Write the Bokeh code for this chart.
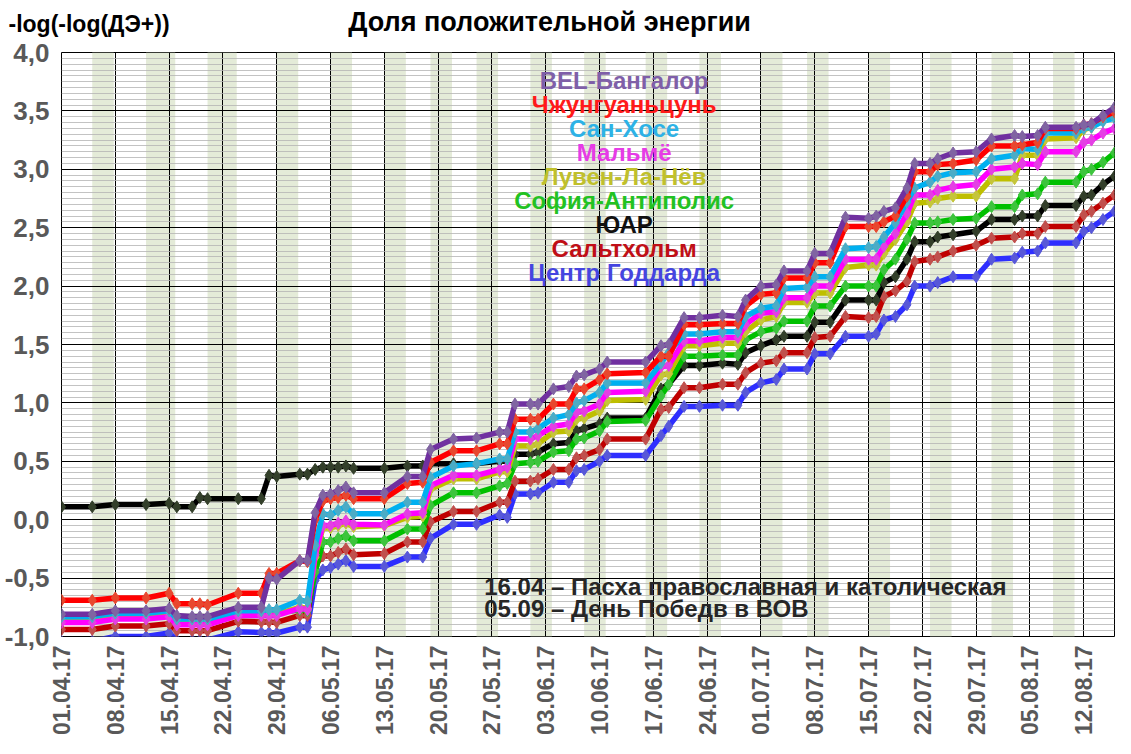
import math
from bokeh.plotting import figure
from bokeh.models import Range1d, FixedTicker, ColumnDataSource, Label
from bokeh.embed import file_html
from bokeh.resources import INLINE
from bokeh.core.properties import value

# ---- data (x = days since 01.04.17) ----
days = [0, 4, 7, 11, 14, 15, 17, 18, 19, 23, 26, 27, 28, 31, 32, 33, 34, 35, 36, 37,
        38, 42, 45, 47, 48, 51, 54, 57, 58, 59, 61, 62, 64, 66, 67, 68, 70, 71, 76, 78,
        79, 81, 83, 86, 88, 89, 91, 93, 94, 97, 98, 100, 102, 105, 106, 107, 108.5, 110, 111, 113,
        114, 116, 119, 121, 124, 125, 127, 128, 132, 133, 134, 135.5, 137]

bangalore = [-0.81, -0.81, -0.78, -0.78, -0.76, -0.82, -0.83, -0.83, -0.83, -0.75,
             -0.75, -0.50, -0.51, -0.35, -0.35, 0.06, 0.21, 0.22, 0.25, 0.28,
             0.23, 0.23, 0.37, 0.37, 0.60, 0.69, 0.70, 0.75, 0.75, 0.99,
             0.99, 0.99, 1.12, 1.14, 1.23, 1.24, 1.29, 1.35, 1.35, 1.49,
             1.50, 1.73, 1.73, 1.75, 1.74, 1.88, 2.00, 2.01, 2.13, 2.13,
             2.28, 2.28, 2.59, 2.58, 2.60, 2.64, 2.67, 2.84, 3.05, 3.05,
             3.09, 3.14, 3.15, 3.26, 3.29, 3.28, 3.29, 3.36, 3.36, 3.38,
             3.39, 3.46, 3.53]
zhongguancun = [-0.69, -0.69, -0.67, -0.67, -0.63, -0.72, -0.72, -0.72, -0.73, -0.63,
                -0.63, -0.46, -0.46, -0.35, -0.36, 0.00, 0.16, 0.18, 0.19, 0.21,
                0.18, 0.18, 0.31, 0.32, 0.49, 0.59, 0.59, 0.65, 0.65, 0.86,
                0.86, 0.86, 0.99, 0.99, 1.12, 1.12, 1.20, 1.25, 1.26, 1.40,
                1.40, 1.67, 1.67, 1.68, 1.68, 1.83, 1.93, 1.94, 2.07, 2.07,
                2.20, 2.20, 2.51, 2.51, 2.51, 2.55, 2.60, 2.77, 2.98, 2.98,
                3.04, 3.05, 3.08, 3.20, 3.20, 3.21, 3.23, 3.35, 3.35, 3.38,
                3.39, 3.45, 3.49]
san_jose = [-0.83, -0.83, -0.80, -0.80, -0.78, -0.85, -0.85, -0.85, -0.85, -0.78,
            -0.78, -0.77, -0.77, -0.69, -0.70, -0.22, 0.05, 0.04, 0.08, 0.11,
            0.05, 0.05, 0.15, 0.15, 0.36, 0.46, 0.48, 0.52, 0.52, 0.75,
            0.75, 0.78, 0.87, 0.90, 1.00, 1.02, 1.09, 1.17, 1.17, 1.34,
            1.43, 1.59, 1.59, 1.61, 1.61, 1.74, 1.81, 1.83, 1.98, 1.99,
            2.08, 2.08, 2.32, 2.33, 2.34, 2.42, 2.54, 2.72, 2.84, 2.89,
            2.94, 2.97, 2.98, 3.09, 3.12, 3.18, 3.17, 3.31, 3.31, 3.35,
            3.36, 3.41, 3.44]
malmo = [-0.88, -0.88, -0.85, -0.85, -0.83, -0.90, -0.90, -0.90, -0.90, -0.82,
         -0.82, -0.82, -0.82, -0.76, -0.77, -0.30, -0.05, -0.05, -0.03, -0.01,
         -0.04, -0.045, 0.05, 0.06, 0.29, 0.38, 0.38, 0.43, 0.45, 0.69,
         0.69, 0.72, 0.80, 0.82, 0.92, 0.93, 0.99, 1.09, 1.10, 1.31,
         1.32, 1.53, 1.53, 1.56, 1.56, 1.67, 1.77, 1.78, 1.90, 1.90,
         2.00, 2.00, 2.23, 2.23, 2.23, 2.34, 2.45, 2.62, 2.78, 2.78,
         2.82, 2.85, 2.87, 3.00, 3.02, 3.05, 3.04, 3.15, 3.15, 3.23,
         3.25, 3.31, 3.35]
louvain = [-0.86, -0.86, -0.83, -0.83, -0.81, -0.88, -0.88, -0.88, -0.88, -0.81,
           -0.81, -0.81, -0.81, -0.75, -0.76, -0.32, -0.07, -0.07, -0.05, -0.03,
           -0.06, -0.05, 0.02, 0.03, 0.26, 0.35, 0.35, 0.41, 0.41, 0.63,
           0.63, 0.65, 0.75, 0.76, 0.86, 0.87, 0.93, 1.02, 1.03, 1.24,
           1.25, 1.49, 1.49, 1.51, 1.51, 1.61, 1.71, 1.74, 1.86, 1.86,
           1.94, 1.94, 2.16, 2.18, 2.18, 2.28, 2.40, 2.55, 2.71, 2.72,
           2.75, 2.77, 2.77, 2.92, 2.92, 3.12, 3.12, 3.26, 3.27, 3.34,
           3.36, 3.42, 3.46]
sophia = [-0.85, -0.85, -0.82, -0.82, -0.80, -0.87, -0.87, -0.87, -0.87, -0.80,
          -0.80, -0.80, -0.80, -0.77, -0.78, -0.45, -0.19, -0.19, -0.16, -0.14,
          -0.18, -0.18, -0.08, -0.08, 0.12, 0.23, 0.23, 0.29, 0.31, 0.48,
          0.49, 0.50, 0.58, 0.59, 0.69, 0.70, 0.76, 0.84, 0.85, 1.06,
          1.16, 1.40, 1.40, 1.41, 1.41, 1.54, 1.61, 1.64, 1.70, 1.70,
          1.83, 1.83, 2.00, 2.00, 2.00, 2.14, 2.23, 2.40, 2.54, 2.54,
          2.55, 2.57, 2.58, 2.68, 2.68, 2.78, 2.79, 2.89, 2.89, 2.98,
          3.00, 3.06, 3.14]
south_africa = [0.11, 0.11, 0.13, 0.13, 0.14, 0.11, 0.11, 0.19, 0.18, 0.18,
                0.18, 0.38, 0.37, 0.39, 0.39, 0.43, 0.45, 0.45, 0.45, 0.46,
                0.44, 0.44, 0.46, 0.46, 0.48, 0.48, 0.48, 0.50, 0.50, 0.56,
                0.56, 0.58, 0.65, 0.66, 0.76, 0.78, 0.82, 0.87, 0.87, 1.12,
                1.16, 1.32, 1.32, 1.34, 1.33, 1.43, 1.49, 1.54, 1.57, 1.57,
                1.69, 1.69, 1.88, 1.88, 1.88, 2.03, 2.08, 2.23, 2.38, 2.38,
                2.42, 2.44, 2.47, 2.57, 2.57, 2.60, 2.60, 2.69, 2.69, 2.77,
                2.78, 2.87, 2.94]
saltholm = [-0.94, -0.94, -0.91, -0.91, -0.89, -0.95, -0.95, -0.95, -0.95, -0.87,
            -0.875, -0.875, -0.88, -0.82, -0.82, -0.39, -0.31, -0.31, -0.28, -0.25,
            -0.30, -0.29, -0.19, -0.19, -0.02, 0.07, 0.07, 0.15, 0.15, 0.33,
            0.33, 0.35, 0.43, 0.43, 0.53, 0.55, 0.60, 0.69, 0.69, 0.945,
            0.96, 1.13, 1.13, 1.16, 1.16, 1.26, 1.34, 1.36, 1.43, 1.43,
            1.56, 1.57, 1.74, 1.73, 1.74, 1.91, 1.96, 2.04, 2.21, 2.23,
            2.25, 2.30, 2.35, 2.41, 2.42, 2.45, 2.45, 2.51, 2.51, 2.61,
            2.64, 2.71, 2.78]
goddard = [-1.04, -1.04, -1.00, -1.00, -0.97, -1.03, -1.03, -1.03, -1.03, -0.96,
           -0.965, -0.965, -0.97, -0.92, -0.92, -0.52, -0.43, -0.41, -0.38, -0.35,
           -0.40, -0.40, -0.32, -0.32, -0.16, -0.04, -0.04, 0.04, 0.02, 0.22,
           0.22, 0.23, 0.32, 0.32, 0.42, 0.43, 0.50, 0.55, 0.55, 0.72,
           0.80, 0.97, 0.97, 0.98, 0.98, 1.09, 1.17, 1.20, 1.29, 1.29,
           1.42, 1.42, 1.57, 1.57, 1.59, 1.71, 1.74, 1.84, 2.00, 2.00,
           2.03, 2.08, 2.08, 2.23, 2.24, 2.29, 2.30, 2.37, 2.37, 2.47,
           2.50, 2.57, 2.64]

series_names = ["BEL-Бангалор", "Чжунгуаньцунь", "Сан-Хосе", "Мальмё", "Лувен-Ла-Нёв",
                "София-Антиполис", "ЮАР", "Сальтхольм", "Центр Годдарда"]
series_values = [bangalore, zhongguancun, san_jose, malmo, louvain,
                 sophia, south_africa, saltholm, goddard]
line_colors = ["#7030A0", "#FF0000", "#00B0F0", "#FF00FF", "#BFBF00",
               "#00C000", "#000000", "#C00000", "#2E2EFF"]
marker_colors = ["#8064A2", "#E8472E", "#4BACC6", "#E43FE4", "#C5C53A",
                 "#3DC43D", "#333F2A", "#C0504D", "#5858D8"]
text_colors = ["#7F5FA8", "#FF1A1A", "#2DB2E6", "#E63BE6", "#C0C02C",
               "#22C222", "#111111", "#C00F17", "#4545E0"]

x_tick_days = [0, 7, 14, 21, 28, 35, 42, 49, 56, 63, 70, 77, 84, 91, 98, 105, 112, 119, 126, 133]
x_tick_labels = ["01.04.17", "08.04.17", "15.04.17", "22.04.17", "29.04.17", "06.05.17",
                 "13.05.17", "20.05.17", "27.05.17", "03.06.17", "10.06.17", "17.06.17",
                 "24.06.17", "01.07.17", "08.07.17", "15.07.17", "22.07.17", "29.07.17",
                 "05.08.17", "12.08.17"]
y_ticks = [-1.0, -0.5, 0.0, 0.5, 1.0, 1.5, 2.0, 2.5, 3.0, 3.5, 4.0]
y_tick_labels = ["-1,0", "-0,5", "0,0", "0,5", "1,0", "1,5", "2,0", "2,5", "3,0", "3,5", "4,0"]

band_start = [4, 11, 19, 28, 35, 42, 48, 54, 61, 68, 76, 83, 91, 97, 105, 113, 121, 129]
band_end = [6.8, 14.8, 22.8, 30.8, 37.8, 44.8, 50.8, 56.8, 63.8, 70.8, 78.8, 85.8, 93.8, 99.8,
            107.8, 115.8, 123.8, 131.8]

title_text = "Доля положительной энергии"
y_title_text = "-log(-log(ДЭ+))"
notes = ["16.04 – Пасха православная и католическая", "05.09 – День Победв в ВОВ"]

FONT = "Liberation Sans"
W, H = 1115, 738
BL, BR, BT, BB = 61, 1, 52, 100
X0, X1, Y0, Y1 = 0, 137, -1.0, 4.0

p = figure(width=W, height=H, output_backend="svg", toolbar_location=None,
           x_range=Range1d(X0, X1), y_range=Range1d(Y0, Y1),
           min_border_left=BL, min_border_right=BR, min_border_top=BT, min_border_bottom=BB)
p.background_fill_color = "white"
p.border_fill_color = "white"
p.outline_line_color = "black"
p.outline_line_width = 1

xt = FixedTicker(ticks=x_tick_days)
yminor = [round(Y0 + 0.05 * i, 2) for i in range(101)]
yt = FixedTicker(ticks=y_ticks, minor_ticks=yminor)

p.xaxis.ticker = xt
p.yaxis.ticker = yt
p.xgrid.ticker = xt
p.ygrid.ticker = yt
p.xgrid.grid_line_color = "black"
p.xgrid.grid_line_width = 1
p.ygrid.grid_line_color = "black"
p.ygrid.grid_line_width = 1
p.ygrid.minor_grid_line_color = "#B4B4B4"
p.ygrid.minor_grid_line_width = 0.8

p.xaxis.major_label_overrides = {d: s for d, s in zip(x_tick_days, x_tick_labels)}
p.yaxis.major_label_overrides = {v: s for v, s in zip(y_ticks, y_tick_labels)}

for ax in (p.xaxis[0], p.yaxis[0]):
    ax.axis_line_color = None
    ax.major_tick_line_color = None
    ax.minor_tick_line_color = None
    ax.major_tick_out = 0
    ax.major_tick_in = 0
    ax.minor_tick_out = 0
    ax.minor_tick_in = 0
    ax.major_label_text_font = FONT
    ax.major_label_text_font_style = "bold"
    ax.major_label_text_color = "#595959"
p.xaxis.major_label_orientation = math.pi / 2
p.xaxis.major_label_text_font_size = "23px"
p.xaxis.major_label_standoff = 9
p.yaxis.major_label_text_font_size = "26px"
p.yaxis.major_label_standoff = 12

# weekly bands
p.quad(left=band_start, right=band_end, bottom=Y0, top=Y1,
       fill_color="#E4EBD8", line_color=None, level="image")

# series (last in legend drawn first)
for name, vals, lc, mc in reversed(list(zip(series_names, series_values, line_colors, marker_colors))):
    src = ColumnDataSource(dict(x=days, y=vals))
    p.line("x", "y", source=src, line_color=lc, line_width=5.5, line_join="round")
    p.scatter("x", "y", source=src, marker="diamond", size=12, fill_color=mc, line_color=mc)

# legend as coloured text
leg_y = [3.76 - 0.205 * i for i in range(len(series_names))]
leg_src = ColumnDataSource(dict(x=[73.2] * len(series_names), y=leg_y,
                                text=series_names, color=text_colors))
p.text("x", "y", text="text", source=leg_src, text_color="color",
       text_font=value(FONT), text_font_style="bold", text_font_size="24px",
       text_align="center", text_baseline="middle")

# titles above the frame (overlay level, placed through the plot's own scales)
px_per_day = (W - BL - BR) / (X1 - X0)
px_per_unit = (H - BT - BB) / (Y1 - Y0)
def day_at(px):
    return X0 + (px - BL) / px_per_day
def val_at(py):
    return Y1 + (BT - py) / px_per_unit
head_src = ColumnDataSource(dict(x=[day_at(549), day_at(8)], y=[val_at(21), val_at(23)],
                                 text=[title_text, y_title_text],
                                 size=["27px", "23px"], align=["center", "left"]))
p.text("x", "y", text="text", source=head_src, text_font=value(FONT),
       text_font_style="bold", text_font_size="size", text_align="align",
       text_baseline="middle", text_color="black", level="overlay")

# notes
for i, s in enumerate(notes):
    p.add_layout(Label(x=55.0, y=-0.573 - 0.188 * i, text=s, text_font=FONT,
                       text_font_style="bold", text_font_size="24px", text_color="#262626",
                       text_align="left", text_baseline="middle"))

open("out.html", "w").write(file_html(p, INLINE))
